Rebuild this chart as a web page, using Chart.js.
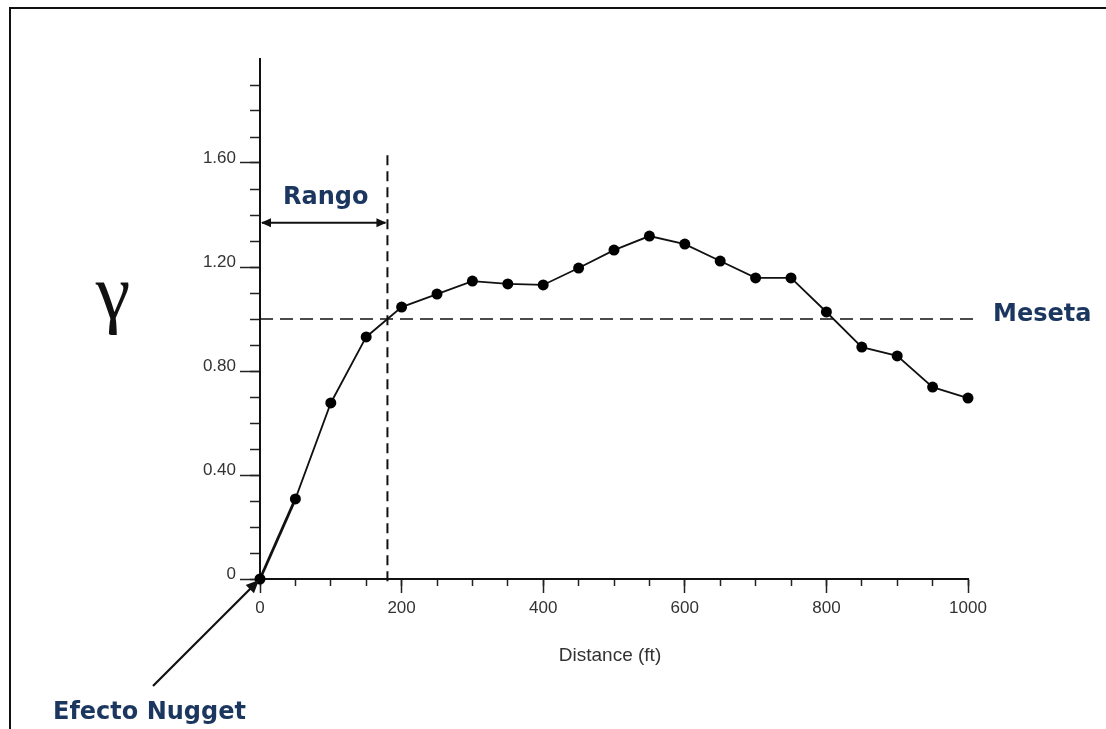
<!DOCTYPE html>
<html>
<head>
<meta charset="utf-8">
<title>Semivariograma</title>
<script src="https://cdn.jsdelivr.net/npm/chart.js@4.4.0/dist/chart.umd.min.js"></script>
<style>
    html, body { margin: 0; padding: 0; background: #fff; }
    #wrap { position: relative; width: 1106px; height: 729px; overflow: hidden; }
    #frame { position: absolute; left: 9px; top: 7px; right: -5px; bottom: -5px;
             border-left: 2px solid #111; border-top: 2px solid #111; pointer-events: none; }
    canvas { position: absolute; left: 0; top: 0; }
</style>
</head>
<body>
<div id="wrap">
    <canvas id="variograma" width="1106" height="729"></canvas>
    <div id="frame"></div>
</div>
<script>
// distancias (ft) y valores de gamma
const distances = [0, 50, 100, 150, 200, 250, 300, 350, 400, 450, 500,
                   550, 600, 650, 700, 750, 800, 850, 900, 950, 1000];
const gammaValues = [0, 0.308, 0.677, 0.931, 1.046, 1.096, 1.146, 1.135, 1.131, 1.196, 1.265,
                     1.319, 1.288, 1.223, 1.158, 1.158, 1.027, 0.892, 0.858, 0.738, 0.696];

const xTickLabels = [0, 200, 400, 600, 800, 1000];
const yTickLabels = ['0', '0.40', '0.80', '1.20', '1.60'];

const sillValue = 1.0;     // Meseta
const rangeValue = 180;    // Rango
const rangeArrowY = 1.37;
const rangeLineTop = 1.63;

const navy = '#1b365f';
const tickFont = { family: 'Liberation Sans, Arial, sans-serif', size: 17 };

function arrowHead(ctx, x, y, angle, size) {
    ctx.save();
    ctx.translate(x, y);
    ctx.rotate(angle);
    ctx.beginPath();
    ctx.moveTo(0, 0);
    ctx.lineTo(-size, -size * 0.45);
    ctx.lineTo(-size, size * 0.45);
    ctx.closePath();
    ctx.fill();
    ctx.restore();
}

// lineas punteadas, flechas y textos
const annotations = {
    id: 'annotations',
    afterDatasetsDraw(chart) {
        const ctx = chart.ctx;
        const xs = chart.scales.x, ys = chart.scales.y;
        const x0 = xs.getPixelForValue(0), y0 = ys.getPixelForValue(0);

        ctx.save();
        ctx.strokeStyle = '#111';
        ctx.fillStyle = '#111';

        // meseta
        ctx.lineWidth = 1.6;
        ctx.setLineDash([13, 7]);
        ctx.beginPath();
        ctx.moveTo(x0, ys.getPixelForValue(sillValue));
        ctx.lineTo(xs.getPixelForValue(1010), ys.getPixelForValue(sillValue));
        ctx.stroke();

        // rango (vertical)
        const xr = xs.getPixelForValue(rangeValue);
        ctx.lineWidth = 2;
        ctx.setLineDash([10, 6]);
        ctx.beginPath();
        ctx.moveTo(xr, ys.getPixelForValue(rangeLineTop));
        ctx.lineTo(xr, y0 + 4);
        ctx.stroke();
        ctx.setLineDash([]);

        // flecha doble del rango
        const ya = ys.getPixelForValue(rangeArrowY);
        ctx.beginPath();
        ctx.moveTo(x0 + 2, ya);
        ctx.lineTo(xr - 2, ya);
        ctx.stroke();
        arrowHead(ctx, x0 + 1, ya, Math.PI, 10);
        arrowHead(ctx, xr - 1, ya, 0, 10);

        // flecha del efecto nugget
        const sx = 153, sy = 686;
        const ang = Math.atan2(y0 - sy, x0 - sx);
        ctx.lineWidth = 2.2;
        ctx.beginPath();
        ctx.moveTo(sx, sy);
        ctx.lineTo(x0 - 6 * Math.cos(ang), y0 - 6 * Math.sin(ang));
        ctx.stroke();
        arrowHead(ctx, x0 - 1, y0 + 1, ang, 13);

        // textos
        ctx.fillStyle = navy;
        ctx.font = 'bold 24px "DejaVu Sans", Verdana, sans-serif';
        ctx.textBaseline = 'middle';
        ctx.textAlign = 'center';
        ctx.fillText('Rango', (x0 + xr) / 2 + 2, 198);
        ctx.textAlign = 'left';
        ctx.fillText('Meseta', 993, 315);
        ctx.fillText('Efecto Nugget', 53, 713);

        ctx.fillStyle = '#111';
        ctx.font = '78px "Liberation Serif", "Times New Roman", serif';
        ctx.textAlign = 'center';
        ctx.textBaseline = 'alphabetic';
        ctx.fillText('γ', 113, 318);

        ctx.fillStyle = '#333';
        ctx.font = '19px "Liberation Sans", Arial, sans-serif';
        ctx.textBaseline = 'middle';
        ctx.fillText('Distance (ft)', (x0 + xs.getPixelForValue(1000)) / 2 - 4, 656);
        ctx.restore();
    }
};

const hideTop = c => (c.tick && c.tick.value > 1.99) ? 'rgba(0,0,0,0)' : '#222';

new Chart(document.getElementById('variograma').getContext('2d'), {
    type: 'line',
    data: {
        datasets: [{
            data: distances.map((d, i) => ({ x: d, y: gammaValues[i] })),
            borderColor: '#111',
            borderWidth: 1.8,
            pointRadius: 5.5,
            pointBackgroundColor: '#000',
            pointBorderColor: '#000',
            pointBorderWidth: 0,
            tension: 0,
            clip: false,
            segment: {
                borderWidth: c => c.p0DataIndex === 0 ? 2.8 : 1.8
            }
        }]
    },
    options: {
        responsive: false,
        animation: false,
        events: [],
        layout: { padding: { top: 59, right: 138, left: 0, bottom: 0 } },
        plugins: { legend: { display: false }, tooltip: { enabled: false } },
        scales: {
            x: {
                type: 'linear', position: 'bottom', weight: 0, min: 0, max: 1000,
                ticks: { stepSize: 50, callback: () => '' },
                grid: { drawOnChartArea: false, tickLength: 7, tickColor: '#222', tickWidth: 1.5 },
                border: { color: '#111', width: 2 },
                afterFit: s => { s.height = 0; }
            },
            xMajor: {
                type: 'linear', position: 'bottom', weight: 1, min: 0, max: 1000,
                ticks: {
                    stepSize: 200, color: '#333', font: tickFont, padding: 5,
                    callback: v => xTickLabels.includes(v) ? String(v) : ''
                },
                grid: { drawOnChartArea: false, tickLength: 14, tickColor: '#222', tickWidth: 1.5 },
                border: { display: false },
                afterFit: s => { s.height = 150; }
            },
            y: {
                type: 'linear', position: 'left', weight: 0, min: 0, max: 2.0,
                ticks: { stepSize: 0.1, callback: () => '' },
                grid: { drawOnChartArea: false, tickLength: 10, tickColor: hideTop, tickWidth: 1.5 },
                border: { color: '#111', width: 2 },
                afterFit: s => { s.width = 0; }
            },
            yMajor: {
                type: 'linear', position: 'left', weight: 1, min: 0, max: 2.0,
                ticks: {
                    stepSize: 0.4, color: '#333', font: tickFont, padding: 4, labelOffset: -5,
                    callback: (v, i) => yTickLabels[i] !== undefined ? yTickLabels[i] : ''
                },
                grid: { drawOnChartArea: false, tickLength: 20, tickColor: hideTop, tickWidth: 1.5 },
                border: { display: false },
                afterFit: s => { s.width = 260; }
            }
        }
    },
    plugins: [annotations]
});
</script>
</body>
</html>
